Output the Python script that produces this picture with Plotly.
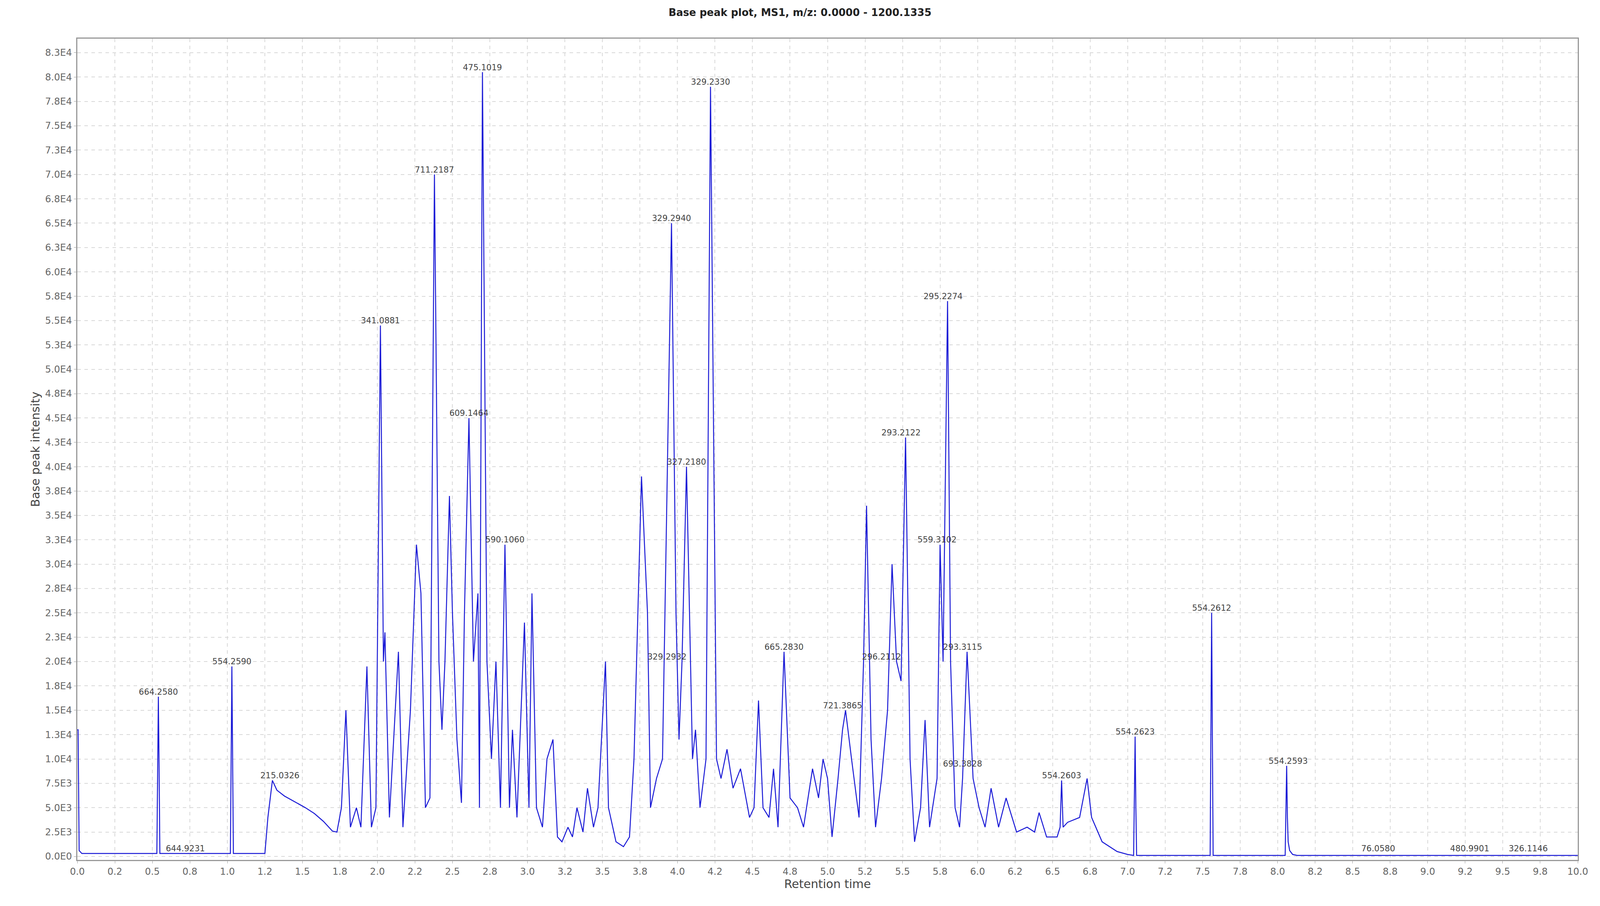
import plotly.graph_objects as go
from decimal import Decimal, ROUND_HALF_UP

# retention time (min) and base peak intensity
rt = [0.0, 0.005, 0.012, 0.03, 0.53, 0.535, 0.54, 0.545, 0.55, 1.02, 1.025, 1.03, 1.035, 1.04, 1.25, 1.27,
      1.30, 1.33, 1.38, 1.45, 1.52, 1.58, 1.64, 1.70, 1.73, 1.76, 1.79, 1.82, 1.86, 1.89, 1.93, 1.96,
      1.99, 2.02, 2.04, 2.05, 2.08, 2.14, 2.17, 2.22, 2.26, 2.29, 2.32, 2.35, 2.38, 2.41, 2.43, 2.45,
      2.48, 2.50, 2.53, 2.56, 2.58, 2.61, 2.64, 2.67, 2.68, 2.70, 2.73, 2.76, 2.79, 2.82, 2.85, 2.88,
      2.90, 2.93, 2.98, 3.01, 3.03, 3.06, 3.10, 3.13, 3.17, 3.20, 3.23, 3.27, 3.30, 3.33, 3.37, 3.40,
      3.44, 3.47, 3.52, 3.54, 3.59, 3.64, 3.68, 3.71, 3.76, 3.80, 3.82, 3.86, 3.90, 3.96, 3.99, 4.01,
      4.03, 4.06, 4.10, 4.12, 4.15, 4.19, 4.22, 4.26, 4.29, 4.33, 4.37, 4.42, 4.48, 4.51, 4.54, 4.57,
      4.61, 4.64, 4.67, 4.71, 4.75, 4.80, 4.84, 4.90, 4.94, 4.97, 5.00, 5.03, 5.07, 5.10, 5.12, 5.16,
      5.21, 5.24, 5.26, 5.29, 5.32, 5.36, 5.40, 5.43, 5.46, 5.49, 5.52, 5.55, 5.58, 5.62, 5.65, 5.68,
      5.73, 5.75, 5.77, 5.80, 5.82, 5.85, 5.88, 5.90, 5.93, 5.97, 6.01, 6.05, 6.09, 6.14, 6.19, 6.26,
      6.33, 6.38, 6.41, 6.46, 6.53, 6.55, 6.56, 6.57, 6.60, 6.68, 6.73, 6.76, 6.83, 6.93, 7.00, 7.04,
      7.045, 7.05, 7.055, 7.06, 7.55, 7.555, 7.56, 7.565, 7.57, 8.05, 8.06, 8.065, 8.07, 8.08, 8.10,
      8.13, 10.0]
intensity = [13000, 13000, 600, 300, 300, 9000, 16400, 9000, 300, 300, 10000, 19500, 10000, 300, 300, 4000,
             7800, 6800, 6200, 5600, 5000, 4400, 3600, 2600, 2500, 5000, 15000, 3000, 5000, 3000, 19500, 3000,
             5000, 54500, 20000, 23000, 4000, 21000, 3000, 15000, 32000, 27000, 5000, 6000, 70000, 20000, 13000, 20000,
             37000, 25000, 12000, 5500, 25000, 45000, 20000, 27000, 5000, 80500, 20000, 10000, 20000, 5000, 32000, 5000,
             13000, 4000, 24000, 5000, 27000, 5000, 3000, 10000, 12000, 2000, 1500, 3000, 2000, 5000, 2500, 7000,
             3000, 5000, 20000, 5000, 1500, 1000, 2000, 10000, 39000, 25000, 5000, 8000, 10000, 65000, 25000, 12000,
             20000, 40000, 10000, 13000, 5000, 10000, 79000, 10000, 8000, 11000, 7000, 9000, 4000, 5000, 16000, 5000,
             4000, 9000, 3000, 21000, 6000, 5000, 3000, 9000, 6000, 10000, 8000, 2000, 8000, 13000, 15000, 10000,
             4000, 20000, 36000, 12000, 3000, 8000, 15000, 30000, 20000, 18000, 43000, 10000, 1500, 5000, 14000, 3000,
             8000, 32000, 20000, 57000, 20000, 5000, 3000, 8000, 21000, 8000, 5000, 3000, 7000, 3000, 6000, 2500,
             3000, 2500, 4500, 2000, 2000, 3000, 7800, 3000, 3500, 4000, 8000, 4000, 1500, 500, 200, 100,
             6000, 12300, 5000, 100, 100, 12000, 25000, 12000, 100, 100, 9300, 4000, 1500, 600, 200,
             100, 100]

# peak labels
label_rt = [0.54, 0.72, 1.03, 1.35, 2.02, 2.38, 2.61, 2.70, 2.85, 3.96, 3.93, 4.06, 4.22, 4.71, 5.10, 5.36,
            5.49, 5.73, 5.77, 5.90, 5.90, 6.56, 7.05, 7.56, 8.07, 8.67, 9.28, 9.67]
label_int = [16400, 300, 19500, 7800, 54500, 70000, 45000, 80500, 32000, 65000, 20000, 40000, 79000, 21000,
             15000, 20000, 43000, 32000, 57000, 21000, 9000, 7800, 12300, 25000, 9300, 300, 300, 300]
label_text = ["664.2580", "644.9231", "554.2590", "215.0326", "341.0881", "711.2187", "609.1464", "475.1019",
              "590.1060", "329.2940", "329.2932", "327.2180", "329.2330", "665.2830", "721.3865", "296.2112",
              "293.2122", "559.3102", "295.2274", "293.3115", "693.3828", "554.2603", "554.2623", "554.2612",
              "554.2593", "76.0580", "480.9901", "326.1146"]

x_ticks = [i * 0.25 for i in range(41)]
x_text = [f"{v:.1f}" for v in x_ticks]
y_ticks = [i * 2500 for i in range(34)]


def fmt(v):
    if v == 0:
        return "0.0E0"
    e = len(str(int(v))) - 1
    m = Decimal(v) / (Decimal(10) ** e)
    return f"{m.quantize(Decimal('0.1'), rounding=ROUND_HALF_UP)}E{e}"


y_text = [fmt(v) for v in y_ticks]

fig = go.Figure()
fig.add_trace(go.Scatter(x=rt, y=intensity, mode="lines", line=dict(color="#1a1ad6", width=2.5),
                         showlegend=False, hoverinfo="skip"))
fig.add_trace(go.Scatter(x=label_rt, y=label_int, mode="text", text=label_text, textposition="top center",
                         textfont=dict(family="DejaVu Sans", size=21, color="#444444"), showlegend=False))

grid = dict(showgrid=True, gridcolor="#d8d8d8", griddash="dash", gridwidth=1.5)
fig.update_xaxes(range=[0, 10], tickvals=x_ticks, ticktext=x_text, **grid,
                 showline=True, linecolor="#999999", linewidth=3, mirror=True, ticks="outside",
                 ticklen=6, tickcolor="#999999", zeroline=False,
                 tickfont=dict(family="DejaVu Sans", size=24, color="#666666"),
                 title=dict(text="Retention time", font=dict(family="DejaVu Sans", size=30, color="#444444"),
                            standoff=8))
fig.update_yaxes(range=[-360, 83940], tickvals=y_ticks, ticktext=y_text, **grid,
                 showline=True, linecolor="#999999", linewidth=3, mirror=True, ticks="outside",
                 ticklen=6, tickcolor="#999999", zeroline=False,
                 tickfont=dict(family="DejaVu Sans", size=24, color="#666666"),
                 title=dict(text="Base peak intensity", font=dict(family="DejaVu Sans", size=30, color="#444444"),
                            standoff=6))
fig.update_layout(
    autosize=True,
    margin=dict(l=198, r=57, t=99, b=118, autoexpand=False),
    paper_bgcolor="white", plot_bgcolor="white",
    title=dict(text="<b>Base peak plot, MS1, m/z: 0.0000 - 1200.1335</b>", x=0.5, xanchor="center",
               y=0.99, yanchor="top", font=dict(family="DejaVu Sans", size=26, color="#222222")),
)
fig.write_html(
    "out.html", default_width="100vw", default_height="100vh",
    config={"displayModeBar": False},
    post_script="document.body.style.margin='0';document.body.style.overflow='hidden';"
                "Plotly.Plots.resize(document.getElementById('{plot_id}'));",
)
